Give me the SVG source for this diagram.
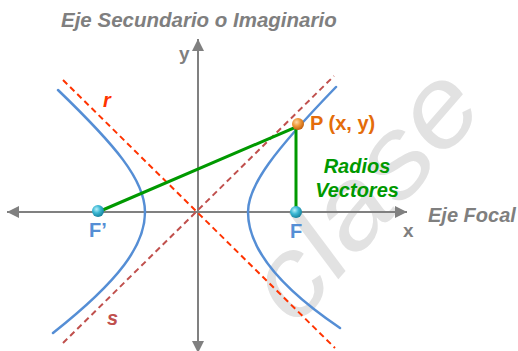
<svg xmlns="http://www.w3.org/2000/svg" width="518" height="351" viewBox="0 0 518 351">
<defs>
<marker id="arr" markerUnits="userSpaceOnUse" markerWidth="12" markerHeight="12" viewBox="0 0 10 10" refX="10" refY="5" orient="auto-start-reverse">
<path d="M0,0 L10,5 L0,10 z" fill="#808080"/>
</marker>
<radialGradient id="gBlue" cx="0.38" cy="0.35" r="0.7">
<stop offset="0" stop-color="#b8f0fa"/>
<stop offset="0.45" stop-color="#3cb8d4"/>
<stop offset="1" stop-color="#137d98"/>
</radialGradient>
<radialGradient id="gOrange" cx="0.38" cy="0.35" r="0.7">
<stop offset="0" stop-color="#ffd9a8"/>
<stop offset="0.45" stop-color="#f09a3c"/>
<stop offset="1" stop-color="#c05a08"/>
</radialGradient>
<style>
.axis{stroke:#808080;stroke-width:2;fill:none}
.asym{stroke-width:2;fill:none;stroke-dasharray:6 4}
.hyp{stroke:#558ED5;stroke-width:2.5;fill:none;stroke-linecap:round}
.rad{stroke:#009900;stroke-width:3;fill:none}
.lbl{font-family:"Liberation Sans",Arial,sans-serif;font-weight:bold}
.it{font-style:italic}
.gray{fill:#7f7f7f}
</style>
</defs>
<rect width="518" height="351" fill="#ffffff"/>
<g id="watermark">
<text x="0" y="0" transform="translate(296,328) rotate(-49)" font-family="Liberation Sans, sans-serif" font-style="italic" font-size="112" fill="#e2e2e2" textLength="292" lengthAdjust="spacingAndGlyphs">clase</text>
</g>
<g id="connectors">
<line class="axis" x1="7" y1="212" x2="407" y2="212" marker-start="url(#arr)" marker-end="url(#arr)"/>
<line class="axis" x1="198" y1="39" x2="198" y2="353" marker-start="url(#arr)" marker-end="url(#arr)"/>
<line id="asym-r" class="asym" stroke="#FF3300" x1="63" y1="80" x2="335" y2="348"/>
<line id="asym-s" class="asym" stroke="#C0504D" x1="63" y1="343" x2="334" y2="76"/>
<path id="branch-right" class="hyp" d="M336,87 C275,150 248,185 248,212 C248,240 266,278 340,328"/>
<path id="branch-left" class="hyp" d="M58,90 C115,145 145,180 145,212 C145,245 120,280 53,333"/>
<path id="radios" class="rad" d="M98,212 L296,127 L296,212"/>
</g>
<g id="node-Fp">
<circle cx="98" cy="211" r="6" fill="url(#gBlue)"/>
<text class="lbl" x="98" y="237" font-size="20" fill="#558ED5" text-anchor="middle">F’</text>
</g>
<g id="node-F">
<circle cx="296" cy="212" r="6" fill="url(#gBlue)"/>
<text class="lbl" x="296" y="238" font-size="20" fill="#558ED5" text-anchor="middle">F</text>
</g>
<g id="node-P">
<circle cx="298" cy="124" r="6" fill="url(#gOrange)"/>
<text class="lbl" x="310" y="130" font-size="20" fill="#E46C0A">P (x, y)</text>
</g>
<g id="labels">
<text class="lbl it gray" x="61" y="27" font-size="20.5">Eje Secundario o Imaginario</text>
<text class="lbl gray" x="179" y="60" font-size="19">y</text>
<text class="lbl gray" x="403" y="237" font-size="19">x</text>
<text class="lbl it gray" x="428" y="222" font-size="20">Eje Focal</text>
<text class="lbl it" x="103" y="107" font-size="20" fill="#FF3300">r</text>
<text class="lbl it" x="107" y="325" font-size="20" fill="#C0504D">s</text>
<text class="lbl it" x="357" y="173" font-size="20" fill="#009900" text-anchor="middle">Radios</text>
<text class="lbl it" x="357" y="197" font-size="20" fill="#009900" text-anchor="middle">Vectores</text>
</g>
</svg>
